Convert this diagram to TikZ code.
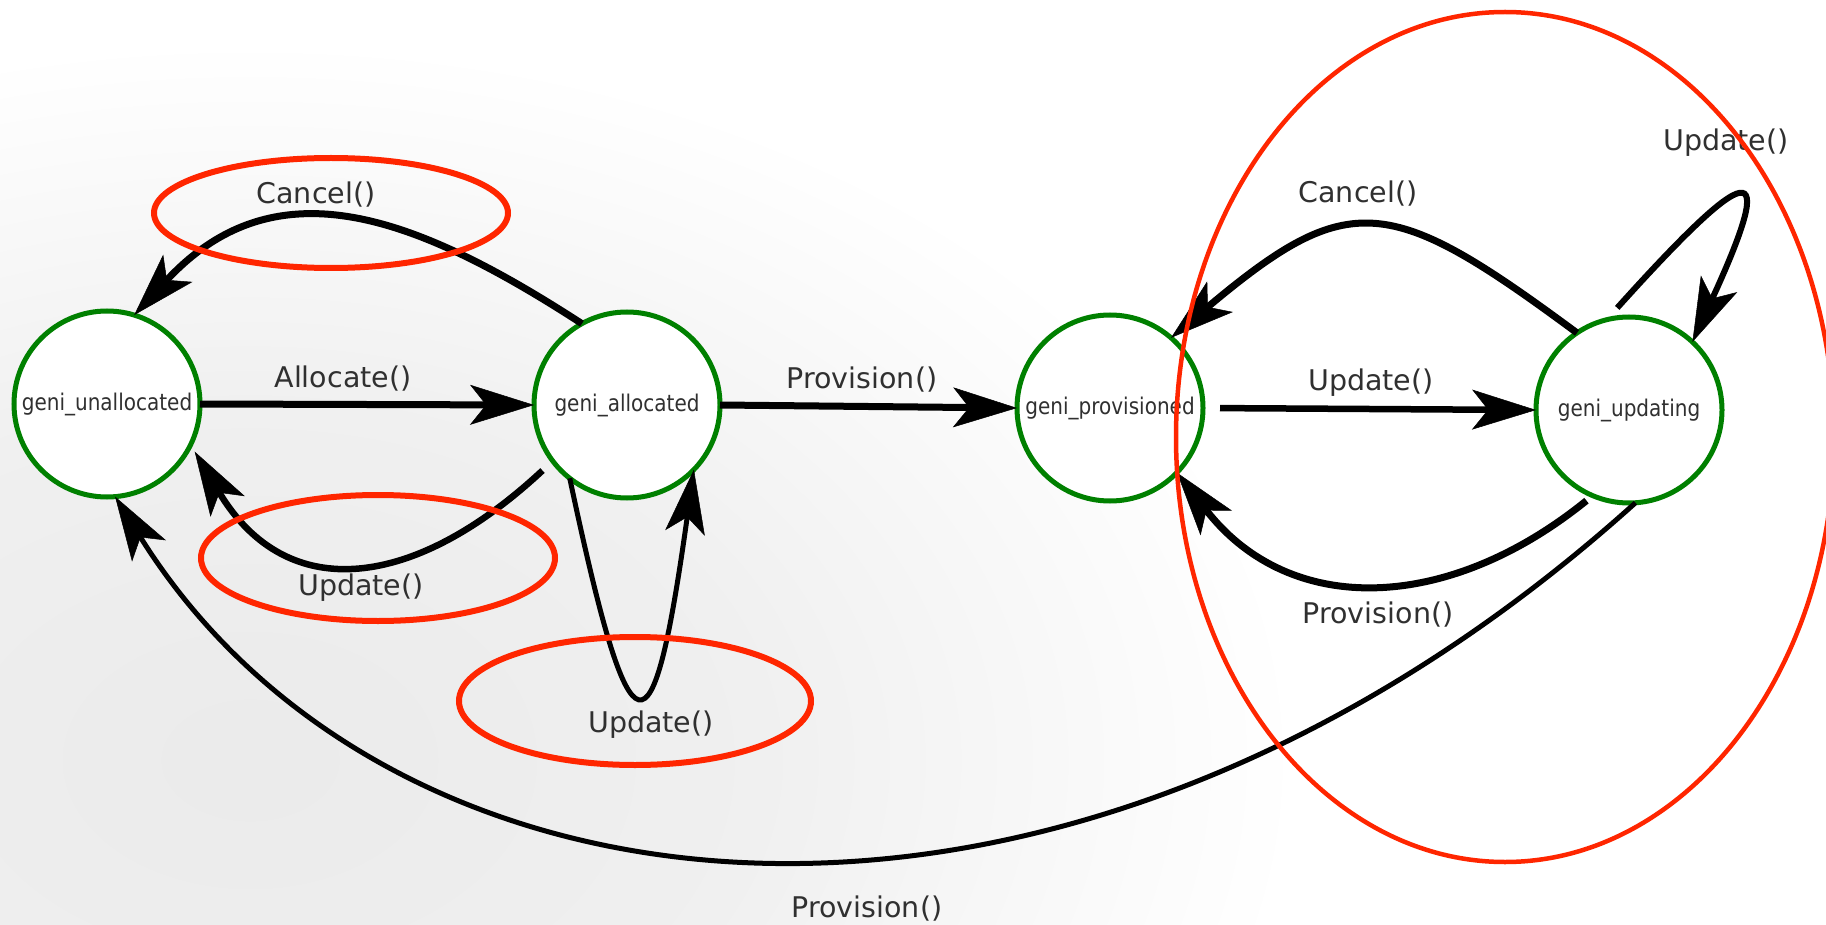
\documentclass[tikz,border=0pt]{standalone}
\usepackage{fontspec}
\setmainfont{DejaVu Sans}
\newfontfamily\statefont[FakeStretch=0.87]{DejaVu Sans}
\usetikzlibrary{arrows.meta}
\definecolor{stategreen}{RGB}{0,128,0}
\definecolor{markred}{RGB}{255,38,0}
\definecolor{labelgray}{RGB}{48,48,48}
\pgfdeclareradialshading{bgshade}{\pgfpoint{0bp}{0bp}}{color(0bp)=(black!8); color(12bp)=(black!6); color(25bp)=(white); color(50bp)=(white)}
\begin{document}
\begin{tikzpicture}[x=1pt,y=1pt,
  state/.style={circle, draw=stategreen, line width=5pt, fill=white, minimum size=186pt,
    inner sep=0pt, outer sep=0pt, font=\statefont\fontsize{23}{23}\selectfont, text=labelgray},
  edge/.style={line width=7pt, -{Stealth[length=64pt,width=40pt,inset=16pt,line width=0.5pt]}},
  thinedge/.style={edge, line width=5pt},
  lbl/.style={font=\fontsize{28.5}{30}\selectfont, text=labelgray, anchor=base, inner sep=0pt},
  redmark/.style={draw=markred, line width=6pt}
]
\useasboundingbox (0,0) rectangle (1826,-925);
\clip (0,0) rectangle (1826,-925);
\fill[white] (0,0) rectangle (1826,-925);
\shade[shading=bgshade] (250,-760) ellipse [x radius=1050, y radius=720];

% states
\node[state] (U) at (107,-404) {geni\_unallocated};
\node[state] (A) at (627,-405) {geni\_allocated};
\node[state] (P) at (1110,-408) {geni\_provisioned};
\node[state] (D) at (1629,-410) {geni\_updating};

% transitions
\draw[edge] (A.119) .. controls +(147:205pt) and +(47:205pt) .. (U.73);
\draw[edge] (U.east) -- (A.west);
\draw[edge] (A.east) -- (P.west);
\draw[edge, line width=6.5pt, shorten <=14pt, shorten >=8pt] (A.217) .. controls +(223:188pt) and +(301:188pt) .. (U.334);
\draw[thinedge] (A.232) .. controls +(282:298pt) and +(262:298pt) .. (A.316);
\draw[edge, line width=6.5pt, shorten <=17pt] (P.east) -- (D.west);
\draw[edge] (D.124) .. controls +(143.5:233pt) and +(40:233pt) .. (P.49);
\draw[edge, line width=6pt, shorten <=16pt] (D.104) .. controls +(48:215pt) and +(65.4:209pt) .. (D.47);
\draw[edge, shorten <=8pt] (D.247) .. controls +(219:185pt) and +(308:185pt) .. (P.316);
\draw[thinedge] (D.274) .. controls +(222:770pt) and +(302:520pt) .. (U.275);

% labels
\node[lbl] (l1) at (316,-204) {Cancel()};
\node[lbl] (l2) at (343,-387) {Allocate()};
\node[lbl] (l3) at (862,-388) {Provision()};
\node[lbl] (l4) at (361,-595) {Update()};
\node[lbl] (l5) at (651,-732) {Update()};
\node[lbl] (l6) at (1371,-390) {Update()};
\node[lbl] (l7) at (1358,-203) {Cancel()};
\node[lbl] (l8) at (1726,-151) {Update()};
\node[lbl] (l9) at (1378,-623) {Provision()};
\node[lbl] (l10) at (867,-917) {Provision()};

% red annotation ellipses
\draw[redmark] (331,-213) ellipse [x radius=177, y radius=55];
\draw[redmark] (378,-558) ellipse [x radius=177, y radius=63];
\draw[redmark] (635,-701) ellipse [x radius=176, y radius=64];
\draw[redmark, line width=4.5pt] (1505,-437) ellipse [x radius=329, y radius=425];
\end{tikzpicture}
\end{document}
